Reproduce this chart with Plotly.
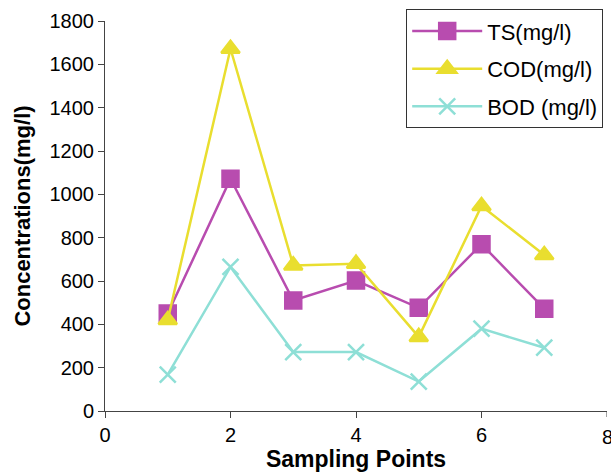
import plotly.graph_objects as go

sampling_points = [1, 2, 3, 4, 5, 6, 7]
ts_values = [450, 1072, 510, 602, 476, 770, 472]
cod_values = [420, 1672, 672, 680, 342, 946, 720]
bod_values = [168, 665, 272, 272, 136, 380, 292]

series_names = ["TS(mg/l)", "COD(mg/l)", "BOD (mg/l)"]
series_colors = ["#B84CAF", "#E9DE2F", "#8EDFD6"]
series_symbols = ["square", "triangle-up", "x-thin"]

x_ticks = [0, 2, 4, 6, 8]
y_ticks = list(range(0, 1801, 200))

fig = go.Figure()
for name, vals, col, sym in zip(series_names, [ts_values, cod_values, bod_values],
                                series_colors, series_symbols):
    fig.add_trace(go.Scatter(
        x=sampling_points, y=vals, name=name, mode="lines+markers",
        legendgroup=name,
        line=dict(color=col, width=2.5),
        marker=dict(symbol=sym, size=16, color=col,
                    line=dict(color=col, width=2.5)),
    ))

font_family = "Liberation Sans, Arial, sans-serif"
fig.update_layout(
    width=611, height=475,
    margin=dict(l=105, r=4, t=21, b=64, autoexpand=False),
    paper_bgcolor="white", plot_bgcolor="white",
    font=dict(family=font_family, size=20, color="black"),
    showlegend=True,
    legend=dict(x=0.6, y=1.03, xanchor="left", yanchor="top",
                bordercolor="#333", borderwidth=1, bgcolor="white",
                font=dict(size=22), itemwidth=70, tracegroupgap=6,
                entrywidth=230, entrywidthmode="pixels",
                traceorder="grouped"),
    xaxis=dict(range=[0, 8], tickvals=x_ticks[:-1], showgrid=False,
               zeroline=False, showline=True, linecolor="#444", linewidth=1,
               ticks="outside", ticklen=6, tickcolor="#444",
               title=dict(text="<b>Sampling Points</b>", standoff=2,
                          font=dict(size=23))),
    yaxis=dict(range=[0, 1800], tickvals=y_ticks, showgrid=False,
               zeroline=False, showline=True, linecolor="#444", linewidth=1,
               ticks="outside", ticklen=6, tickcolor="#444",
               title=dict(text="<b>Concentrations(mg/l)</b>", standoff=12,
                          font=dict(size=22))),
)

# last x tick (at the right edge of the axis) with its label partially cut off
fig.add_annotation(x=x_ticks[-1], xref="x", y=0, yref="paper", text=str(x_ticks[-1]),
                   showarrow=False, yanchor="top", yshift=-13, xanchor="center",
                   font=dict(size=20, color="black"))
fig.add_shape(type="line", xref="x", yref="paper", x0=x_ticks[-1], x1=x_ticks[-1],
              y0=0, y1=-0.0154, line=dict(color="#444", width=1))

fig.write_html("out.html")
